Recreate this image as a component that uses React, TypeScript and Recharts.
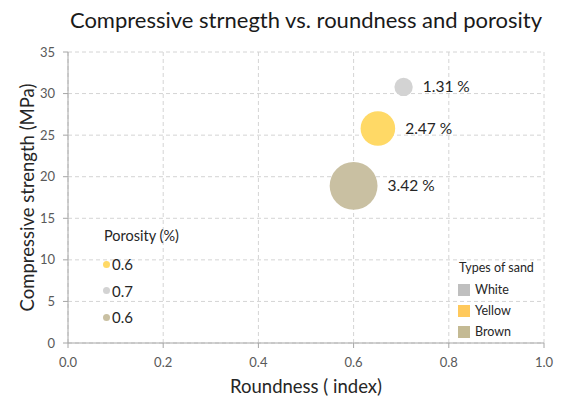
import React from "react"
import {
  ScatterChart,
  Scatter,
  XAxis,
  YAxis,
  CartesianGrid,
} from "recharts"

const sandTypes = ["White", "Yellow", "Brown"]
const roundness = [0.705, 0.651, 0.6]
const strength = [30.8, 25.8, 18.9]
const porosity = [1.31, 2.47, 3.42]
const bubbleColors = ["#D3D3D3", "#FFD966", "#C9C0A2"]
const legendColors = ["#BFBFBF", "#FFC95C", "#C4BA94"]

const porosityLegendValues = ["0.6", "0.7", "0.6"]
const porosityLegendColors = ["#FFD966", "#D3D3D3", "#C9C0A2"]

const xTicks = [0, 0.2, 0.4, 0.6, 0.8, 1.0]
const yTicks = [0, 5, 10, 15, 20, 25, 30, 35]

const FONT = "Lato, 'Open Sans', sans-serif"
const RADIUS_PER_PCT = 7

function Bubble(props: any) {
  const { cx, cy, payload, fill } = props
  const r = payload.porosity * RADIUS_PER_PCT
  return (
    <g>
      <circle cx={cx} cy={cy} r={r} fill={fill} />
      <text
        x={cx + r + 10}
        y={cy}
        dy="0.35em"
        fontSize={15.5}
        fill="#262626"
        fontFamily={FONT}
      >
        {`${payload.porosity.toFixed(2)} %`}
      </text>
    </g>
  )
}

export default function App() {
  const series = sandTypes.map((name, i) => ({
    name,
    color: bubbleColors[i],
    data: [{ x: roundness[i], y: strength[i], porosity: porosity[i] }],
  }))

  return (
    <div
      style={{
        position: "absolute",
        left: 0,
        top: 0,
        width: 565,
        height: 399,
        background: "#fff",
        fontFamily: FONT,
      }}
    >
      <div
        style={{
          position: "absolute",
          left: 0,
          width: 612,
          top: 6,
          textAlign: "center",
          fontSize: 22,
          color: "#1a1a1a",
        }}
      >
        Compressive strnegth vs. roundness and porosity
      </div>
      <ScatterChart
        width={565}
        height={399}
        margin={{ top: 52, right: 21, bottom: 0, left: 0 }}
      >
        <CartesianGrid stroke="#D4D4D4" strokeDasharray="4 3" />
        <XAxis
          type="number"
          dataKey="x"
          domain={[0, 1]}
          ticks={xTicks}
          tickFormatter={(v: number) => v.toFixed(1)}
          height={56}
          stroke="#A6A6A6"
          tickSize={5}
          tickMargin={10}
          tick={{ fill: "#595959", fontSize: 13, fontFamily: FONT }}
          label={{
            value: "Roundness ( index)",
            position: "center",
            dy: 15,
            fill: "#262626",
            fontSize: 18.5,
            fontFamily: FONT,
          }}
        />
        <YAxis
          type="number"
          dataKey="y"
          domain={[0, 35]}
          ticks={yTicks}
          width={68}
          stroke="#A6A6A6"
          tickSize={5}
          tickMargin={8}
          tick={{ fill: "#595959", fontSize: 13, fontFamily: FONT }}
          label={{
            value: "Compressive strength (MPa)",
            angle: -90,
            position: "center",
            dx: -7,
            fill: "#262626",
            fontSize: 18.5,
            fontFamily: FONT,
          }}
        />
        {series.map((s) => (
          <Scatter
            key={s.name}
            name={s.name}
            data={s.data}
            fill={s.color}
            shape={Bubble}
            isAnimationActive={false}
          />
        ))}
      </ScatterChart>

      <div style={{ position: "absolute", left: 104, top: 227, fontSize: 14.5, color: "#262626" }}>
        Porosity (%)
      </div>
      {porosityLegendValues.map((v, i) => (
        <div
          key={i}
          style={{
            position: "absolute",
            left: 103,
            top: 255 + i * 26.5,
            display: "flex",
            alignItems: "center",
            fontSize: 15,
            color: "#262626",
          }}
        >
          <span
            style={{
              width: 7,
              height: 7,
              borderRadius: "50%",
              background: porosityLegendColors[i],
              marginRight: 2,
              display: "inline-block",
            }}
          />
          {v}
        </div>
      ))}

      <div style={{ position: "absolute", left: 459, top: 260, fontSize: 12.5, color: "#262626" }}>
        Types of sand
      </div>
      {sandTypes.map((name, i) => (
        <div
          key={name}
          style={{
            position: "absolute",
            left: 458,
            top: 282 + i * 21,
            display: "flex",
            alignItems: "center",
            fontSize: 12.5,
            color: "#262626",
          }}
        >
          <span
            style={{
              width: 12,
              height: 12,
              background: legendColors[i],
              marginRight: 5,
              display: "inline-block",
            }}
          />
          {name}
        </div>
      ))}
    </div>
  )
}
